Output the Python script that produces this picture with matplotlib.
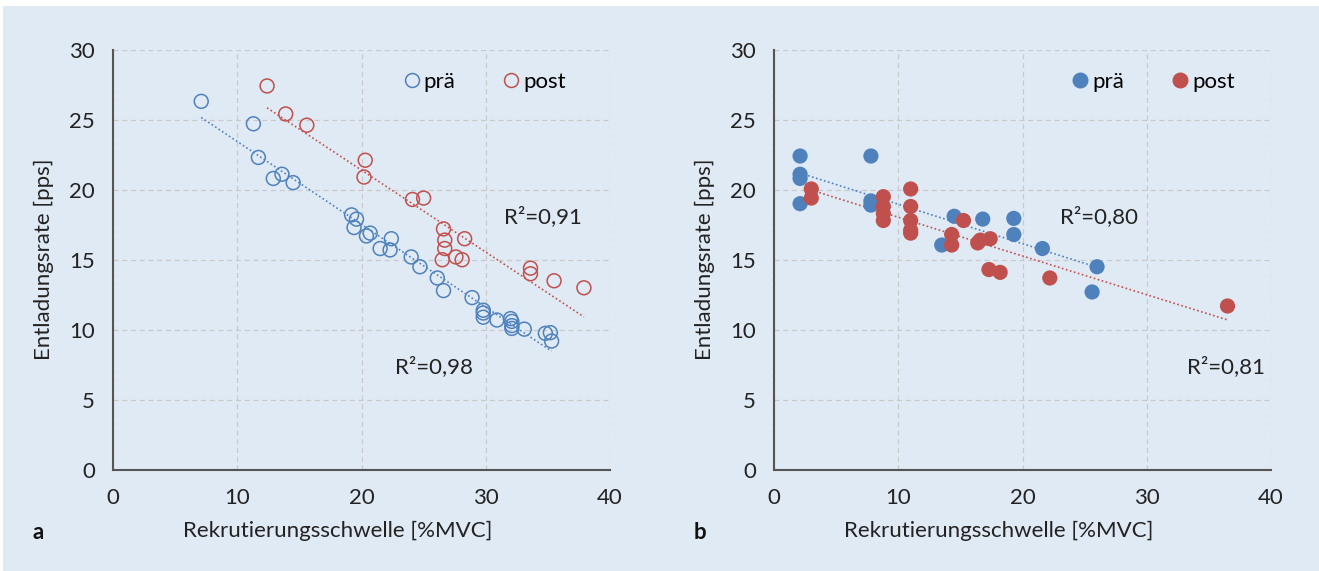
import numpy as np
import matplotlib
matplotlib.use("Agg")
import matplotlib.pyplot as plt
from matplotlib import font_manager
from matplotlib.lines import Line2D
from matplotlib.patches import Rectangle

names = {f.name for f in font_manager.fontManager.ttflist}
font = "Liberation Sans Narrow" if "Liberation Sans Narrow" in names else "Lato"
plt.rcParams["font.family"] = [font, "DejaVu Sans"]

# panel a: open circles
a_pre_x = [7.1, 11.3, 11.7, 12.9, 13.6, 14.5, 19.2, 19.6, 19.4, 20.4, 20.7, 22.4, 21.5, 22.3, 24.0, 24.7,
           26.1, 26.6, 28.9, 29.8, 29.8, 29.8, 30.9, 32.0, 32.1, 32.1, 32.1, 33.1, 34.8, 35.2, 35.3]
a_pre_y = [26.3, 24.7, 22.3, 20.8, 21.1, 20.5, 18.2, 17.9, 17.3, 16.7, 16.9, 16.5, 15.8, 15.7, 15.2, 14.5,
           13.7, 12.8, 12.3, 11.4, 11.2, 10.9, 10.7, 10.8, 10.6, 10.3, 10.1, 10.05, 9.75, 9.8, 9.2]
a_post_x = [12.4, 13.9, 15.6, 20.3, 20.2, 24.1, 25.0, 26.6, 26.7, 26.7, 26.5, 27.6, 28.1, 28.3, 33.6, 33.6, 35.5, 37.9]
a_post_y = [27.4, 25.4, 24.6, 22.1, 20.9, 19.3, 19.4, 17.2, 16.4, 15.8, 15.0, 15.2, 15.0, 16.5, 14.4, 14.0, 13.5, 13.0]

# panel b: filled circles
b_pre_x = [2.1, 2.1, 2.1, 2.1, 7.8, 7.8, 7.8, 14.5, 16.8, 19.3, 19.3, 13.5, 21.6, 26.0, 25.6]
b_pre_y = [22.4, 21.1, 20.8, 19.0, 22.4, 19.2, 18.9, 18.1, 17.9, 17.95, 16.8, 16.05, 15.8, 14.5, 12.7]
b_post_x = [3.0, 3.0, 8.8, 8.8, 8.8, 8.8, 11.0, 11.0, 11.0, 11.0, 11.0, 15.25, 14.3, 14.3, 16.4, 16.6,
            17.4, 17.3, 18.2, 22.2, 36.5]
b_post_y = [20.05, 19.4, 19.5, 18.8, 18.3, 17.8, 20.05, 18.8, 17.8, 17.1, 16.9, 17.8, 16.8, 16.05, 16.2, 16.4,
            16.5, 14.3, 14.1, 13.7, 11.7]

r2_a = ["R²=0,98", "R²=0,91"]
r2_b = ["R²=0,80", "R²=0,81"]

BLUE = "#4f81bd"
RED = "#c0504d"
BG = "#e0eaf4"
FS = 16

fig = plt.figure(figsize=(13.19, 5.71), dpi=100, facecolor="white")
fig.patches.append(Rectangle((3 / 1319, 0), 1, 1 - 6 / 571, transform=fig.transFigure,
                             facecolor=BG, edgecolor="none", zorder=-10))

ax1 = fig.add_axes([113 / 1319, 101 / 571, 497 / 1319, 420.5 / 571])
ax2 = fig.add_axes([774 / 1319, 101 / 571, 497 / 1319, 420.5 / 571])


def style(ax, letter):
    ax.set_facecolor("none")
    ax.set_xlim(0, 40)
    ax.set_ylim(0, 30)
    ax.set_xticks(range(0, 41, 10))
    ax.set_yticks(range(0, 31, 5))
    ax.grid(True, color="#c9c9c9", linestyle=(0, (4, 3)), linewidth=0.9)
    ax.set_axisbelow(True)
    for s in ["top", "right"]:
        ax.spines[s].set_visible(False)
    for s in ["left", "bottom"]:
        ax.spines[s].set_color("#555555")
        ax.spines[s].set_linewidth(1.5)
    ax.tick_params(length=0, labelsize=FS, pad=13, colors="#222222")
    # the x label sits a bit left of the axis centre in the original
    ax.set_xlabel("Rekrutierungsschwelle [%MVC]", fontsize=FS, color="#222222", labelpad=9, x=0.453)
    ax.set_ylabel("Entladungsrate [pps]", fontsize=FS, color="#222222", labelpad=11)
    ax.text(-0.161, -0.164, letter, transform=ax.transAxes, fontsize=FS, fontweight="bold",
            va="baseline", color="#111111")


def trend(ax, x, y, color):
    k, d = np.polyfit(x, y, 1)
    xs = np.array([min(x), max(x)])
    ax.plot(xs, k * xs + d, color=color, linestyle=(0, (1, 1.5)), linewidth=1.2, zorder=2)


# panel a
style(ax1, "a")
ax1.scatter(a_pre_x, a_pre_y, s=100, facecolors="none", edgecolors=BLUE, linewidths=1.1, zorder=3)
ax1.scatter(a_post_x, a_post_y, s=100, facecolors="none", edgecolors=RED, linewidths=1.1, zorder=3)
trend(ax1, a_pre_x, a_pre_y, BLUE)
trend(ax1, a_post_x, a_post_y, RED)
ax1.text(22.7, 7.4, r2_a[0], fontsize=FS, va="center", color="#222222")
ax1.text(31.5, 18.1, r2_a[1], fontsize=FS, va="center", color="#222222")
h1 = [Line2D([], [], marker="o", linestyle="none", markersize=10, markerfacecolor="none",
             markeredgecolor=c, markeredgewidth=1.1) for c in (BLUE, RED)]
ax1.legend(h1, ["prä", "post"], ncol=2, frameon=False, fontsize=FS, loc="center",
           bbox_to_anchor=(0.745, 0.923), handletextpad=0.05, columnspacing=2.0, handlelength=1.0)

# panel b
style(ax2, "b")
ax2.scatter(b_pre_x, b_pre_y, s=120, color=BLUE, edgecolors="none", zorder=3)
ax2.scatter(b_post_x, b_post_y, s=120, color=RED, edgecolors="none", zorder=4)
trend(ax2, b_pre_x, b_pre_y, BLUE)
trend(ax2, b_post_x, b_post_y, RED)
ax2.text(23.0, 18.1, r2_b[0], fontsize=FS, va="center", color="#222222")
ax2.text(33.2, 7.4, r2_b[1], fontsize=FS, va="center", color="#222222")
h2 = [Line2D([], [], marker="o", linestyle="none", markersize=10.5, color=c) for c in (BLUE, RED)]
ax2.legend(h2, ["prä", "post"], ncol=2, frameon=False, fontsize=FS, loc="center",
           bbox_to_anchor=(0.76, 0.923), handletextpad=0.05, columnspacing=2.0, handlelength=1.0)

fig.savefig("out.png", dpi=100, facecolor="white")
